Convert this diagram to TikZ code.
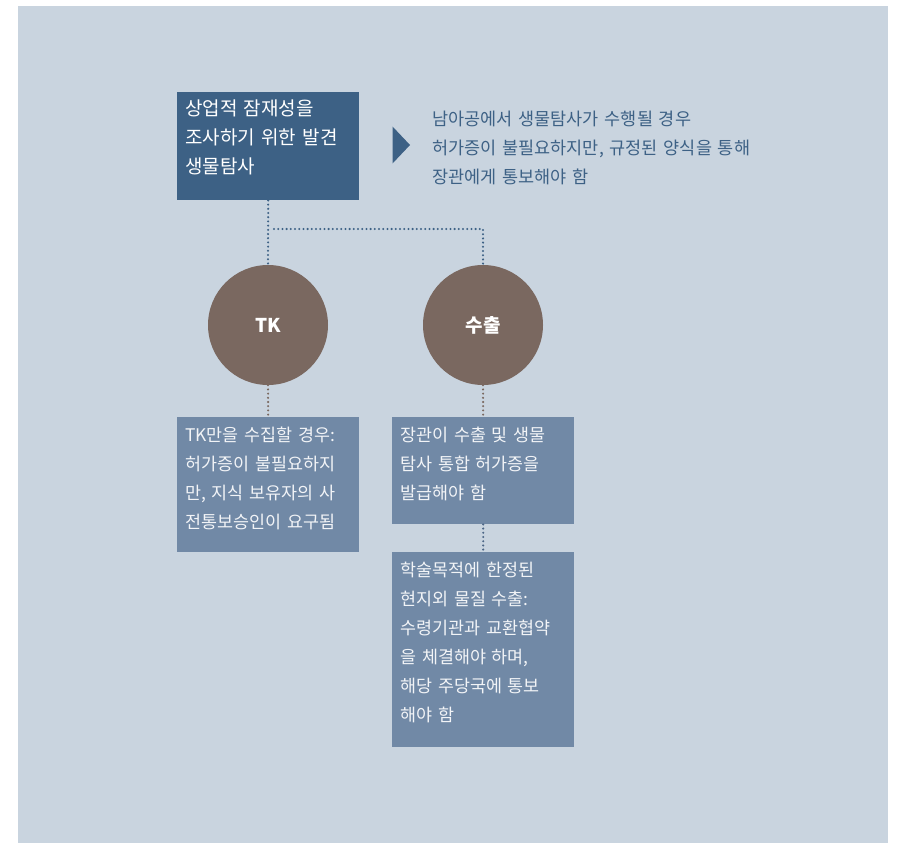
\documentclass[tikz,border=0pt]{standalone}
\usepackage{fontspec}
\setmainfont{Noto Sans CJK KR}
\definecolor{bg}{HTML}{C9D4DF}
\definecolor{topblue}{HTML}{3D6185}
\definecolor{circ}{HTML}{7A6860}
\definecolor{lowbox}{HTML}{7189A6}
\definecolor{midblue}{HTML}{4C6686}
\definecolor{lowtext}{HTML}{F2F4F7}
\tikzset{
  boxbase/.style={rectangle, anchor=north west, inner xsep=8pt, inner ysep=0pt, text width=166pt, align=left},
  topbox/.style={boxbase, fill=topblue, text=white, font=\fontsize{19}{29}\selectfont, text height=23pt},
  lowerbox/.style={boxbase, fill=lowbox, text=lowtext, font=\fontsize{17.4}{29}\selectfont, text height=24pt},
  topic/.style={circle, fill=circ, minimum size=120pt, inner sep=0pt, text=white, font=\fontsize{19}{22}\selectfont\bfseries},
  dots/.style={line width=2.3pt, line cap=round, dash pattern=on 0pt off 4.2pt},
  bluedots/.style={dots, draw=topblue},
  browndots/.style={dots, draw=circ},
  middots/.style={dots, draw=midblue},
}
\begin{document}
\begin{tikzpicture}[x=1pt,y=-1pt]
\useasboundingbox (0,0) rectangle (899,843);
\fill[bg] (18,6) rectangle (888,843);

\node[topbox, text depth=85pt] (top) at (177,92) {상업적 잠재성을\\조사하기 위한 발견\\생물탐사};
\fill[topblue] (392.7,126.7) -- (410,145) -- (392.7,163.3) -- cycle;
\node[anchor=north west, inner sep=0pt, text width=360pt, align=left, text=topblue,
      font=\fontsize{17.5}{29}\selectfont, text height=15pt] (note) at (432,110)
  {남아공에서 생물탐사가 수행될 경우\\허가증이 불필요하지만, 규정된 양식을 통해\\장관에게 통보해야 함};

\node[topic] (tk) at (268,325) {TK};
\node[topic] (ex) at (483,325) {수출};

\node[lowerbox, text depth=111pt] (tkbox) at (177,417) {TK만을 수집할 경우:\\허가증이 불필요하지\\만, 지식 보유자의 사\\전통보승인이 요구됨};
\node[lowerbox, text depth=83pt] (exbox) at (392,417) {장관이 수출 및 생물\\탐사 통합 허가증을\\발급해야 함};
\node[lowerbox, text depth=171pt] (acbox) at (392,552) {학술목적에 한정된\\현지외 물질 수출:\\수령기관과 교환협약\\을 체결해야 하며,\\해당 주당국에 통보\\해야 함};

\coordinate (junc) at (274,229);
\draw[bluedots] (top.south) -- (tk.north);
\draw[bluedots] (junc) -| (ex.north);
\draw[browndots] (tk.south) -- (tkbox.north);
\draw[browndots] (ex.south) -- (exbox.north);
\draw[middots] (exbox.south) -- (acbox.north);
\end{tikzpicture}
\end{document}
